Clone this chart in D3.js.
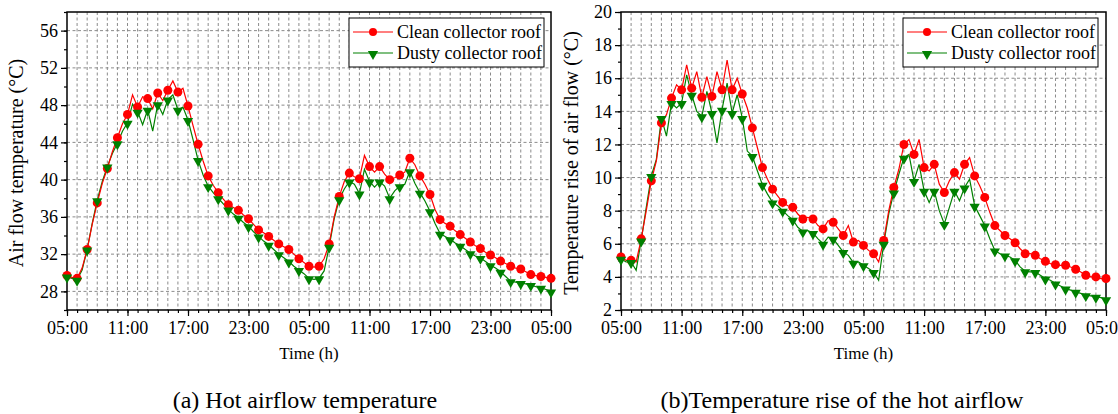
<!DOCTYPE html>
<html>
<head>
<meta charset="utf-8">
<script src="https://cdn.jsdelivr.net/npm/d3@7"></script>
<style>
  body { margin: 0; background: #fff; }
  .grid line { stroke: #8a8a8a; stroke-width: 1; stroke-dasharray: 3,2.5; }
  .axis path, .axis line { stroke: #000; }
  .axis text { font-family: "Liberation Serif", serif; font-size: 18px; fill: #000; }
</style>
</head>
<body>
<div class="chart"></div>
<script>
// hours since 05:00 of day 1, sampled every half hour (markers on the full hours)
var timeTicks = [0, 6, 12, 18, 24, 30, 36, 42, 48];
var timeLabels = ["05:00", "11:00", "17:00", "23:00", "05:00", "11:00", "17:00", "23:00", "05:00"];
var seriesNames = ["Clean collector roof", "Dusty collector roof"];
var serif = "Liberation Serif, serif";

// (a) hot airflow temperature, deg C
var cleanTemp = [
  29.7, 29.5, 29.4, 30.5, 32.5, 35.2, 37.5, 39.6, 41.2, 43.0,
  44.5, 46.0, 47.0, 49.1, 47.8, 48.9, 48.7, 47.6, 49.3, 48.5,
  49.6, 50.6, 49.4, 49.8, 47.9, 45.8, 43.8, 42.0, 40.4, 39.4,
  38.6, 37.9, 37.3, 37.0, 36.7, 36.2, 35.8, 35.2, 34.6, 34.3,
  33.9, 33.5, 33.1, 32.8, 32.5, 32.0, 31.5, 31.1, 30.7, 30.6,
  30.7, 31.5, 33.1, 36.0, 38.2, 39.8, 40.7, 40.3, 40.1, 42.6,
  41.4, 40.8, 41.4, 40.6, 40.0, 40.2, 40.5, 40.8, 42.3, 41.6,
  40.4, 39.5, 38.4, 36.8, 35.7, 35.3, 35.0, 34.5, 34.1, 33.7,
  33.3, 32.9, 32.6, 32.2, 31.9, 31.6, 31.25, 31.0, 30.7, 30.5,
  30.4, 30.1, 29.8, 29.7, 29.6, 29.5, 29.4
];
var dustyTemp = [
  29.6, 29.4, 29.25, 30.3, 32.5, 35.3, 37.8, 39.8, 41.4, 42.8,
  43.9, 45.2, 46.1, 48.1, 47.3, 45.9, 47.5, 45.2, 48.1, 47.0,
  48.6, 49.1, 47.5, 47.8, 46.4, 44.3, 42.1, 40.5, 39.3, 38.6,
  38.0, 37.4, 36.8, 36.3, 35.9, 35.4, 35.0, 34.4, 33.9, 33.4,
  33.0, 32.5, 32.0, 31.6, 31.2, 30.7, 30.3, 29.9, 29.4, 29.3,
  29.4, 30.2, 32.8, 35.8, 37.9, 39.0, 39.8, 39.5, 38.5, 41.1,
  39.8, 39.2, 39.8, 39.3, 38.0, 38.8, 39.3, 39.5, 40.9, 39.6,
  38.6, 37.7, 36.6, 35.3, 34.2, 33.9, 33.6, 33.2, 32.9, 32.5,
  32.1, 31.8, 31.6, 31.2, 30.8, 30.5, 30.1, 29.6, 29.1, 29.0,
  28.9, 28.8, 28.7, 28.5, 28.4, 28.2, 28.0
];

// (b) temperature rise of the hot airflow, deg C
var cleanRise = [
  5.2, 5.0, 5.0, 4.9, 6.3, 8.0, 9.8, 11.0, 13.3, 13.8,
  14.8, 15.6, 15.3, 16.8, 15.4, 16.4, 14.85, 16.1, 14.9, 16.4,
  15.3, 17.1, 15.3, 16.0, 15.05, 14.2, 13.0, 11.8, 10.6, 9.9,
  9.3, 8.9, 8.5, 8.3, 8.2, 7.8, 7.5, 7.6, 7.5, 7.1,
  6.9, 7.4, 7.3, 6.9, 6.5, 7.1, 6.1, 6.2, 5.9, 5.6,
  5.4, 4.9, 6.2, 8.0, 9.4, 10.5, 12.0, 12.3, 11.4, 12.3,
  10.6, 10.4, 10.8, 9.6, 9.1, 9.8, 10.3, 9.9, 10.8, 11.2,
  10.1, 9.5, 8.8, 7.9, 7.1, 6.8, 6.5, 6.3, 6.06, 5.7,
  5.4, 5.4, 5.3, 5.1, 4.94, 4.8, 4.74, 4.7, 4.7, 4.6,
  4.46, 4.3, 4.1, 4.0, 4.0, 3.9, 3.9
];
var dustyRise = [
  5.1, 4.9, 4.9, 4.4, 6.2, 8.2, 10.1, 11.1, 13.6, 12.5,
  14.5, 14.2, 14.5, 16.2, 15.0, 14.0, 13.7, 15.2, 13.9, 12.1,
  14.1, 15.7, 13.9, 15.0, 13.6, 11.6, 11.3, 10.4, 9.56, 9.0,
  8.5, 8.3, 8.0, 7.7, 7.45, 7.0, 6.75, 6.8, 6.65, 6.3,
  6.0, 6.4, 6.3, 5.9, 5.5, 5.3, 4.86, 4.9, 4.7, 4.5,
  4.3, 3.8, 6.0, 7.8, 9.1, 10.2, 11.2, 11.4, 9.8, 10.8,
  9.2, 8.5, 9.2, 8.0, 7.2, 8.2, 9.2, 8.6, 9.4, 9.9,
  8.3, 7.7, 7.1, 6.3, 5.6, 5.4, 5.3, 5.2, 5.0, 4.6,
  4.34, 4.3, 4.3, 4.1, 3.9, 3.8, 3.6, 3.45, 3.3, 3.2,
  3.1, 3.0, 2.9, 2.85, 2.8, 2.75, 2.65
];

var hours = cleanTemp.map((d, i) => i / 2);

var svg = d3.select(".chart")
    .append("svg")
    .attr("width", 1118)
    .attr("height", 414)
    .style("display", "block");

drawPanel({
    left: 67, top: 12, width: 484, height: 298,
    yDomain: [26, 58], yMajor: d3.range(28, 57, 4), yMinor: d3.range(26, 59, 2),
    clean: cleanTemp, dusty: dustyTemp,
    yTitle: "Air flow temperature (°C)", yTitleX: 23,
    legendX: 349,
    caption: "(a) Hot airflow temperature", captionX: 305
});

drawPanel({
    left: 621, top: 12, width: 485, height: 298,
    yDomain: [2, 20], yMajor: d3.range(2, 21, 2), yMinor: d3.range(2, 21, 1),
    clean: cleanRise, dusty: dustyRise,
    yTitle: "Temperature rise of air flow (°C)", yTitleX: 578,
    legendX: 903,
    caption: "(b)Temperature rise of the hot airflow", captionX: 842
});

function drawPanel(p) {
    var g = svg.append("g")
        .attr("transform", `translate(${p.left}, ${p.top})`);

    var xScale = d3.scaleLinear().domain([0, 48]).range([0, p.width]);
    var yScale = d3.scaleLinear().domain(p.yDomain).range([p.height, 0]);

    // dashed grid: every hour vertically, every major tick horizontally
    g.append("g").attr("class", "grid")
        .selectAll("line")
        .data(d3.range(1, 48))
        .enter().append("line")
        .attr("x1", d => xScale(d)).attr("x2", d => xScale(d))
        .attr("y1", 0).attr("y2", p.height);
    g.append("g").attr("class", "grid")
        .selectAll("line")
        .data(p.yMajor.filter(d => d > p.yDomain[0] && d < p.yDomain[1]))
        .enter().append("line")
        .attr("x1", 0).attr("x2", p.width)
        .attr("y1", d => yScale(d)).attr("y2", d => yScale(d));

    // axes
    g.append("g")
        .attr("class", "axis")
        .attr("transform", `translate(0, ${p.height})`)
        .call(d3.axisBottom(xScale).tickValues(d3.range(0, 49)).tickSize(3).tickFormat(""))
        .call(a => a.select(".domain").remove());
    g.append("g")
        .attr("class", "axis")
        .attr("transform", `translate(0, ${p.height})`)
        .call(d3.axisBottom(xScale).tickValues(timeTicks).tickSize(6).tickPadding(5)
            .tickFormat((d, i) => timeLabels[i]))
        .call(a => a.select(".domain").remove());
    g.append("g")
        .attr("class", "axis")
        .call(d3.axisLeft(yScale).tickValues(p.yMinor).tickSize(3).tickFormat(""))
        .call(a => a.select(".domain").remove());
    g.append("g")
        .attr("class", "axis")
        .call(d3.axisLeft(yScale).tickValues(p.yMajor).tickSize(6).tickPadding(3))
        .call(a => a.select(".domain").remove());

    g.selectAll(".axis line").attr("stroke-width", 1.2);

    // frame
    g.append("rect")
        .attr("width", p.width).attr("height", p.height)
        .attr("fill", "none").attr("stroke", "#000").attr("stroke-width", 1.5);

    var line = d3.line()
        .x((d, i) => xScale(hours[i]))
        .y(d => yScale(d));

    var tri = d3.symbol().type(d3.symbolTriangle).size(46);

    // dusty drawn first, clean on top
    g.append("path")
        .datum(p.dusty)
        .attr("d", line)
        .attr("fill", "none").attr("stroke", "#008000").attr("stroke-width", 1.2);
    g.append("path")
        .datum(p.clean)
        .attr("d", line)
        .attr("fill", "none").attr("stroke", "#ff0000").attr("stroke-width", 1.2);

    g.append("g").selectAll("circle")
        .data(p.clean.filter((d, i) => i % 2 == 0))
        .enter().append("circle")
        .attr("cx", (d, i) => xScale(i))
        .attr("cy", d => yScale(d))
        .attr("r", 4.5)
        .attr("fill", "#ff0000");
    g.append("g").selectAll("path")
        .data(p.dusty.filter((d, i) => i % 2 == 0))
        .enter().append("path")
        .attr("d", tri)
        .attr("transform", (d, i) => `translate(${xScale(i)}, ${yScale(d) + 1}) rotate(180)`)
        .attr("fill", "#008000");

    // legend
    var lg = svg.append("g").attr("transform", `translate(${p.legendX}, 18)`);
    lg.append("rect")
        .attr("width", 195).attr("height", 49)
        .attr("fill", "#fff").attr("stroke", "#000").attr("stroke-width", 1);
    [0, 1].forEach(function(k) {
        var yy = 14 + k * 21;
        var col = k == 0 ? "#ff0000" : "#008000";
        lg.append("line")
            .attr("x1", 4).attr("x2", 44).attr("y1", yy).attr("y2", yy)
            .attr("stroke", col).attr("stroke-width", 1.2);
        if (k == 0) {
            lg.append("circle").attr("cx", 24).attr("cy", yy).attr("r", 4).attr("fill", col);
        } else {
            lg.append("path").attr("d", tri)
                .attr("transform", `translate(24, ${yy + 1}) rotate(180)`)
                .attr("fill", col);
        }
        lg.append("text")
            .attr("x", 48).attr("y", yy + 6)
            .attr("font-family", serif)
            .attr("font-size", "18px")
            .text(seriesNames[k]);
    });

    // titles
    svg.append("text")
        .attr("transform", `translate(${p.yTitleX}, ${p.top + p.height / 2 + 2}) rotate(-90)`)
        .attr("text-anchor", "middle")
        .attr("font-family", serif)
        .attr("font-size", "20px")
        .text(p.yTitle);
    svg.append("text")
        .attr("x", p.left + p.width / 2).attr("y", 359)
        .attr("text-anchor", "middle")
        .attr("font-family", serif)
        .attr("font-size", "17px")
        .text("Time (h)");
    svg.append("text")
        .attr("x", p.captionX).attr("y", 408)
        .attr("text-anchor", "middle")
        .attr("font-family", serif)
        .attr("font-size", "24px")
        .text(p.caption);
}
</script>
</body>
</html>
